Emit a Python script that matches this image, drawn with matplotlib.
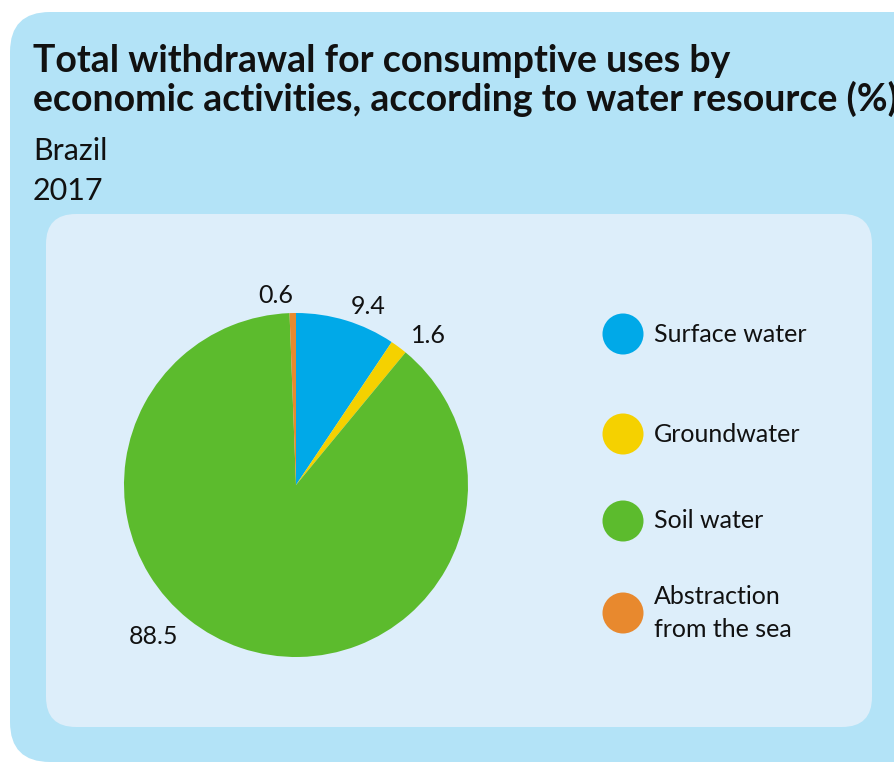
import matplotlib
matplotlib.use("Agg")
import matplotlib.pyplot as plt
from matplotlib.patches import FancyBboxPatch, Circle

categories = ["Surface water", "Groundwater", "Soil water", "Abstraction\nfrom the sea"]
values = [9.4, 1.6, 88.5, 0.6]
value_labels = ["9.4", "1.6", "88.5", "0.6"]
colors = ["#00a9e8", "#f5d100", "#5cbb2d", "#e8892e"]
title_lines = ["Total withdrawal for consumptive uses by",
               "economic activities, according to water resource (%)"]
subtitle = ["Brazil", "2017"]

W, H = 894, 762
fig = plt.figure(figsize=(W / 100, H / 100), dpi=100)
fig.patch.set_facecolor("white")
FONT = "Lato"

bg = fig.add_axes([0, 0, 1, 1])
bg.set_xlim(0, W)
bg.set_ylim(H, 0)
bg.axis("off")
bg.add_patch(FancyBboxPatch((10 + 40, 12 + 40), W + 60 - 10 - 80, 762 - 12 - 80,
                            boxstyle="round,pad=40", fc="#b3e3f7", ec="none"))
bg.add_patch(FancyBboxPatch((46 + 30, 214 + 30), 872 - 46 - 60, 727 - 214 - 60,
                            boxstyle="round,pad=30", fc="#ddeefa", ec="none"))

for i, line in enumerate(title_lines):
    bg.text(33, 72 + 39 * i, line, fontsize=27, fontweight="bold", family=FONT,
            va="baseline", ha="left", color="#111111")
bg.text(33, 160, subtitle[0], fontsize=22, family=FONT, va="baseline", color="#111111")
bg.text(33, 200, subtitle[1], fontsize=22, family=FONT, va="baseline", color="#111111")

# pie
cx, cy, r = 296, 485, 172
pax = fig.add_axes([(cx - r) / W, (H - cy - r) / H, 2 * r / W, 2 * r / H])
wedges, texts = pax.pie(values, colors=colors, startangle=90, counterclock=False,
                        labels=value_labels, labeldistance=1.12,
                        textprops=dict(fontsize=18, family=FONT, color="#111111"),
                        wedgeprops=dict(linewidth=0))
pax.set_xlim(-1, 1)
pax.set_ylim(-1, 1)
pax.set_aspect("equal")
# label placement as in the reference (axes units, relative to pie centre)
label_pos = [(0.42, 1.04), (0.77, 0.87), (-0.83, -0.88), (-0.12, 1.10)]
for t, p in zip(texts, label_pos):
    t.set_ha("center")
    t.set_va("center")
    t.set_position(p)

# legend
leg_y = [334, 434, 521, 613]
for cat, col, ly in zip(categories, colors, leg_y):
    bg.add_patch(Circle((623, ly), 20.5, fc=col, ec="none"))
    bg.text(654, ly, cat, fontsize=18, family=FONT, va="center", ha="left",
            linespacing=1.5, color="#111111")

fig.savefig("out.png", dpi=100)
